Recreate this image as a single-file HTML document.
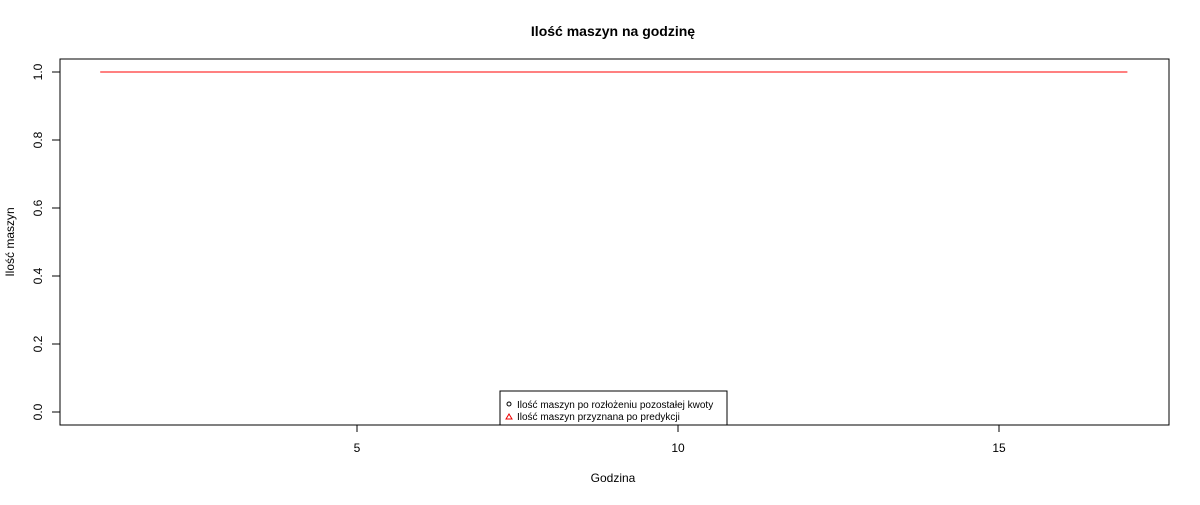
<!DOCTYPE html>
<html><head><meta charset="utf-8"><style>
body{margin:0;background:#fff}
svg text{font-family:"Liberation Sans",Arial,sans-serif}
</style></head><body>
<svg id="c" width="1200" height="500">
<rect x="0" y="0" width="1200" height="500" fill="#fff"/>
<text x="613" y="36" font-size="14" font-weight="bold" text-anchor="middle">Ilość maszyn na godzinę</text>
<rect x="60" y="59" width="1109" height="366" fill="none" stroke="#000"/>
<text x="613" y="482" font-size="12" text-anchor="middle">Godzina</text>
<text transform="translate(14,242) rotate(-90)" font-size="12" text-anchor="middle">Ilość maszyn</text>
<g id="ax"></g>
<g id="marks"></g>
<g>
<rect x="500" y="391" width="227" height="34" fill="#fff" stroke="#000"/>
<circle cx="509" cy="404" r="2" fill="none" stroke="#000"/>
<text x="517" y="408" font-size="10">Ilość maszyn po rozłożeniu pozostałej kwoty</text>
<path d="M506,419 L509,414 L512,419 Z" fill="none" stroke="#e00"/>
<text x="517" y="420" font-size="10">Ilość maszyn przyznana po predykcji</text>
</g>
</svg>
<script>
const hours=[1,2,3,4,5,6,7,8,9,10,11,12,13,14,15,16,17];
const predicted=[1,1,1,1,1,1,1,1,1,1,1,1,1,1,1,1,1];
const xTicks=[5,10,15];
const yTicks=[0,0.2,0.4,0.6,0.8,1.0];
const NS="http://www.w3.org/2000/svg";
function xs(v){return 357+(v-5)*64.2;}
function ys(v){return 412-v*340;}
const ax=document.getElementById('ax'),mk=document.getElementById('marks');
function el(t,a,p){const e=document.createElementNS(NS,t);for(const k in a)e.setAttribute(k,a[k]);p.appendChild(e);return e;}
xTicks.forEach(t=>{
 const l=el('line',{x1:xs(t),x2:xs(t),y1:425,y2:432,stroke:'#000'},ax);
 
 
 const tx=el('text',{x:xs(t),y:452,'font-size':12,'text-anchor':'middle'},ax);tx.textContent=t;
 
 
});
yTicks.forEach(t=>{
 const l=el('line',{x1:52,x2:60,y1:ys(t),y2:ys(t),stroke:'#000'},ax);
 
 
 const tx=el('text',{transform:`translate(42,${ys(t)}) rotate(-90)`,'font-size':12,'text-anchor':'middle'},ax);tx.textContent=t.toFixed(1);
 
 
});
const pl=el('polyline',{points:hours.map((h,i)=>xs(h)+','+ys(predicted[i])).join(' '),fill:'none',stroke:'#f00','stroke-width':1},mk);


</script>
</body></html>
